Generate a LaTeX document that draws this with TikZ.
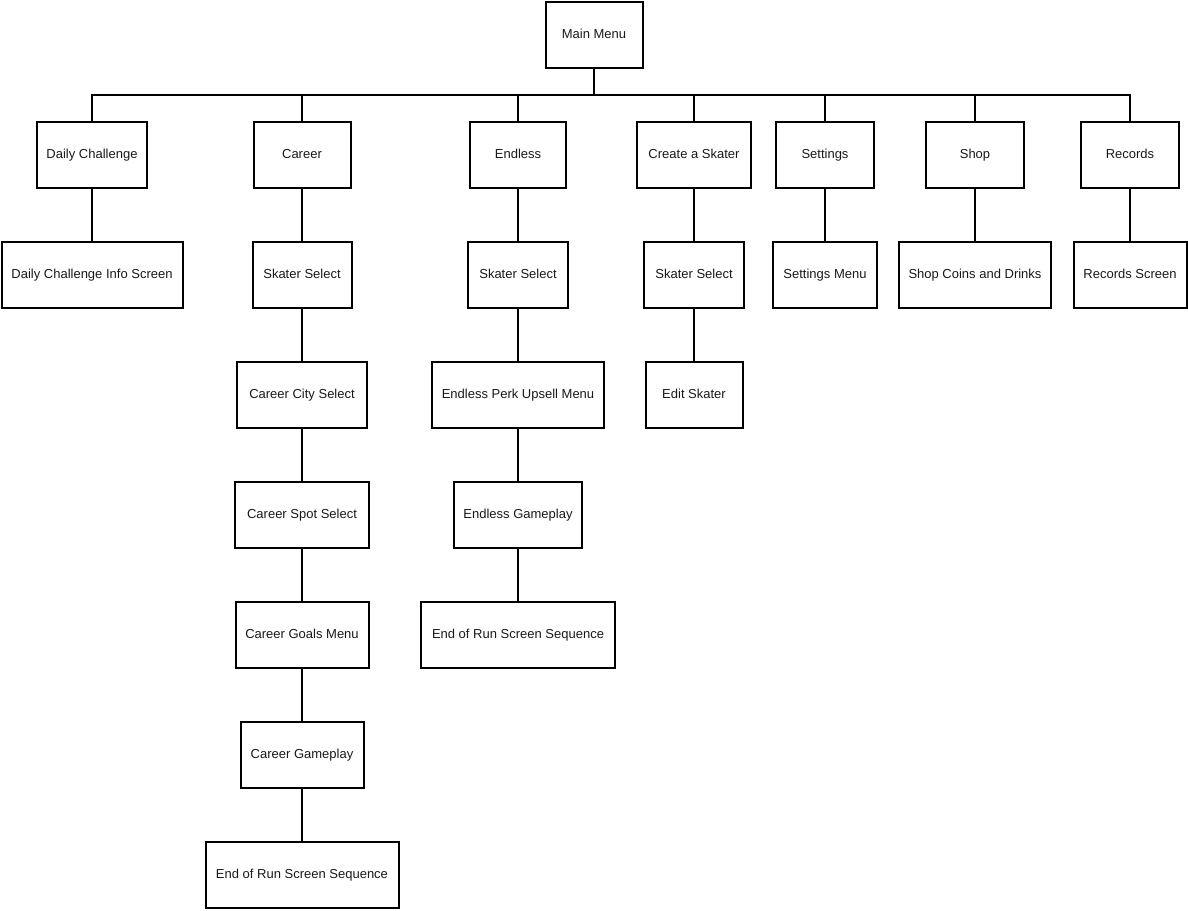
\documentclass[tikz,border=0pt]{standalone}
\usepackage{fontspec}
\setmainfont{Liberation Sans}
\begin{document}
\begin{tikzpicture}[x=1pt,y=-1pt,
  box/.style={draw=black,line width=2pt,fill=white,minimum height=66pt,inner sep=0pt,
    text height=9.3pt,text depth=2.7pt,
    font=\fontsize{13}{15}\selectfont,text=black!90},
  link/.style={draw=black,line width=2pt}]
\useasboundingbox (0,0) rectangle (1188,910);
% root
\node[box,minimum width=97pt] (mm) at (594,35) {Main Menu};
% row 1
\node[box,minimum width=110pt] (dc) at (92,155) {Daily Challenge};
\node[box,minimum width=97pt] (car) at (302,155) {Career};
\node[box,minimum width=96pt] (end) at (518,155) {Endless};
\node[box,minimum width=114pt] (cre) at (694,155) {Create a Skater};
\node[box,minimum width=98pt] (set) at (825,155) {Settings};
\node[box,minimum width=98pt] (shop) at (975,155) {Shop};
\node[box,minimum width=98pt] (rec) at (1130,155) {Records};
% row 2
\node[box,minimum width=181pt] (dci) at (92,275) {Daily Challenge Info Screen};
\node[box,minimum width=99pt] (ss1) at (302,275) {Skater Select};
\node[box,minimum width=100pt] (ss2) at (518,275) {Skater Select};
\node[box,minimum width=100pt] (ss3) at (694,275) {Skater Select};
\node[box,minimum width=104pt] (setm) at (825,275) {Settings Menu};
\node[box,minimum width=152pt] (shopc) at (975,275) {Shop Coins and Drinks};
\node[box,minimum width=113pt] (recs) at (1130,275) {Records Screen};
% row 3
\node[box,minimum width=130pt] (city) at (302,395) {Career City Select};
\node[box,minimum width=172pt] (perk) at (518,395) {Endless Perk Upsell Menu};
\node[box,minimum width=97pt] (edit) at (694,395) {Edit Skater};
% row 4
\node[box,minimum width=134pt] (spot) at (302,515) {Career Spot Select};
\node[box,minimum width=128pt] (egame) at (518,515) {Endless Gameplay};
% row 5
\node[box,minimum width=133pt] (goals) at (302,635) {Career Goals Menu};
\node[box,minimum width=194pt] (eor1) at (518,635) {End of Run Screen Sequence};
% row 6
\node[box,minimum width=123pt] (cgame) at (302,755) {Career Gameplay};
% row 7
\node[box,minimum width=193pt] (eor2) at (302,875) {End of Run Screen Sequence};
% connectors
\coordinate (bus) at (594,95);
\draw[link] (mm.south) -- (bus);
\foreach \n in {dc,car,end,cre,set,shop,rec}{\draw[link] (\n.north) |- (bus);}
\draw[link] (dc) -- (dci);
\draw[link] (car) -- (ss1);
\draw[link] (ss1) -- (city);
\draw[link] (city) -- (spot);
\draw[link] (spot) -- (goals);
\draw[link] (goals) -- (cgame);
\draw[link] (cgame) -- (eor2);
\draw[link] (end) -- (ss2);
\draw[link] (ss2) -- (perk);
\draw[link] (perk) -- (egame);
\draw[link] (egame) -- (eor1);
\draw[link] (cre) -- (ss3);
\draw[link] (ss3) -- (edit);
\draw[link] (set) -- (setm);
\draw[link] (shop) -- (shopc);
\draw[link] (rec) -- (recs);
\end{tikzpicture}
\end{document}
